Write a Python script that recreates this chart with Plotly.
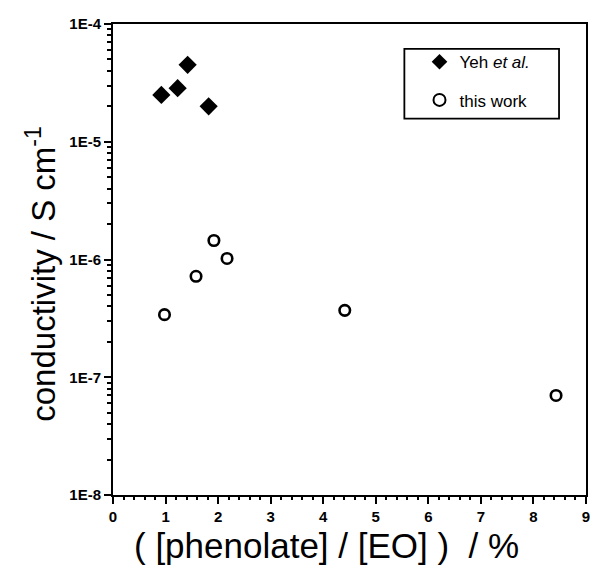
import plotly.graph_objects as go

# Data
yeh_x = [0.92, 1.23, 1.42, 1.82]
yeh_y = [2.5e-5, 2.85e-5, 4.5e-5, 2.0e-5]

work_x = [0.98, 1.58, 1.92, 2.17, 4.41, 8.43]
work_y = [3.4e-7, 7.2e-7, 1.45e-6, 1.02e-6, 3.7e-7, 7.0e-8]

x_ticks = list(range(0, 10))
y_tickvals = [1e-8, 1e-7, 1e-6, 1e-5, 1e-4]
y_ticktext = ["1E-8", "1E-7", "1E-6", "1E-5", "1E-4"]

x_title = "( [phenolate] / [EO] )  / %"
y_title = "conductivity / S cm<sup>-1</sup>"

minor_y = [k * 10.0 ** e for e in range(-8, -4) for k in range(2, 10)]

FONT = "Liberation Sans, Arial, Helvetica, sans-serif"

fig = go.Figure()
fig.add_trace(go.Scatter(
    x=yeh_x, y=yeh_y, mode="markers", name="Yeh <i>et al.</i>",
    legendgroup="a",
    marker=dict(symbol="diamond", size=14, color="black"),
))
fig.add_trace(go.Scatter(
    x=work_x, y=work_y, mode="markers", name="this work",
    legendgroup="b",
    marker=dict(symbol="circle-open", size=10.5, color="black",
                line=dict(width=2.6, color="black")),
))

fig.update_layout(
    width=596, height=569,
    margin=dict(l=113, r=6, t=24, b=74),
    plot_bgcolor="white", paper_bgcolor="white",
    font=dict(family=FONT, color="black"),
    showlegend=True,
    legend=dict(
        x=0.648, y=0.957, xanchor="left", yanchor="top",
        borderwidth=0, bgcolor="rgba(0,0,0,0)",
        font=dict(size=17, family=FONT, color="black"),
        itemsizing="constant", traceorder="grouped", tracegroupgap=13,
    ),
    shapes=[dict(type="rect", xref="paper", yref="paper",
                 x0=0.616, x1=0.943, y0=0.799, y1=0.947,
                 line=dict(color="black", width=1.8), fillcolor="rgba(0,0,0,0)",
                 layer="below")],
    annotations=[
        dict(text=x_title, xref="paper", yref="paper", x=0.452, y=-0.108,
             xanchor="center", yanchor="middle", showarrow=False,
             font=dict(size=35, family=FONT, color="black")),
        dict(text=y_title, xref="paper", yref="paper", x=-0.152, y=0.47,
             xanchor="center", yanchor="middle", showarrow=False, textangle=-90,
             font=dict(size=33, family=FONT, color="black")),
    ],
)

fig.update_xaxes(
    range=[0, 9], tickmode="array", tickvals=x_ticks,
    ticks="outside", ticklen=7, tickwidth=2, tickcolor="black",
    showline=True, linecolor="black", linewidth=2, mirror=True,
    showgrid=False, zeroline=False,
    tickfont=dict(size=15, family=FONT, color="black", weight="bold"),
    minor=dict(ticks="outside", ticklen=3, tickwidth=1.5, tickcolor="black", dtick=0.2),
)

fig.update_yaxes(
    type="log", range=[-8, -4], tickmode="array",
    tickvals=y_tickvals, ticktext=y_ticktext,
    ticks="outside", ticklen=7, tickwidth=2, tickcolor="black",
    showline=True, linecolor="black", linewidth=2, mirror=True,
    showgrid=False, zeroline=False,
    tickfont=dict(size=15, family=FONT, color="black", weight="bold"),
    minor=dict(ticks="outside", ticklen=4, tickwidth=1.5, tickcolor="black",
               tickmode="array", tickvals=minor_y),
)

fig.write_html("out.html")
